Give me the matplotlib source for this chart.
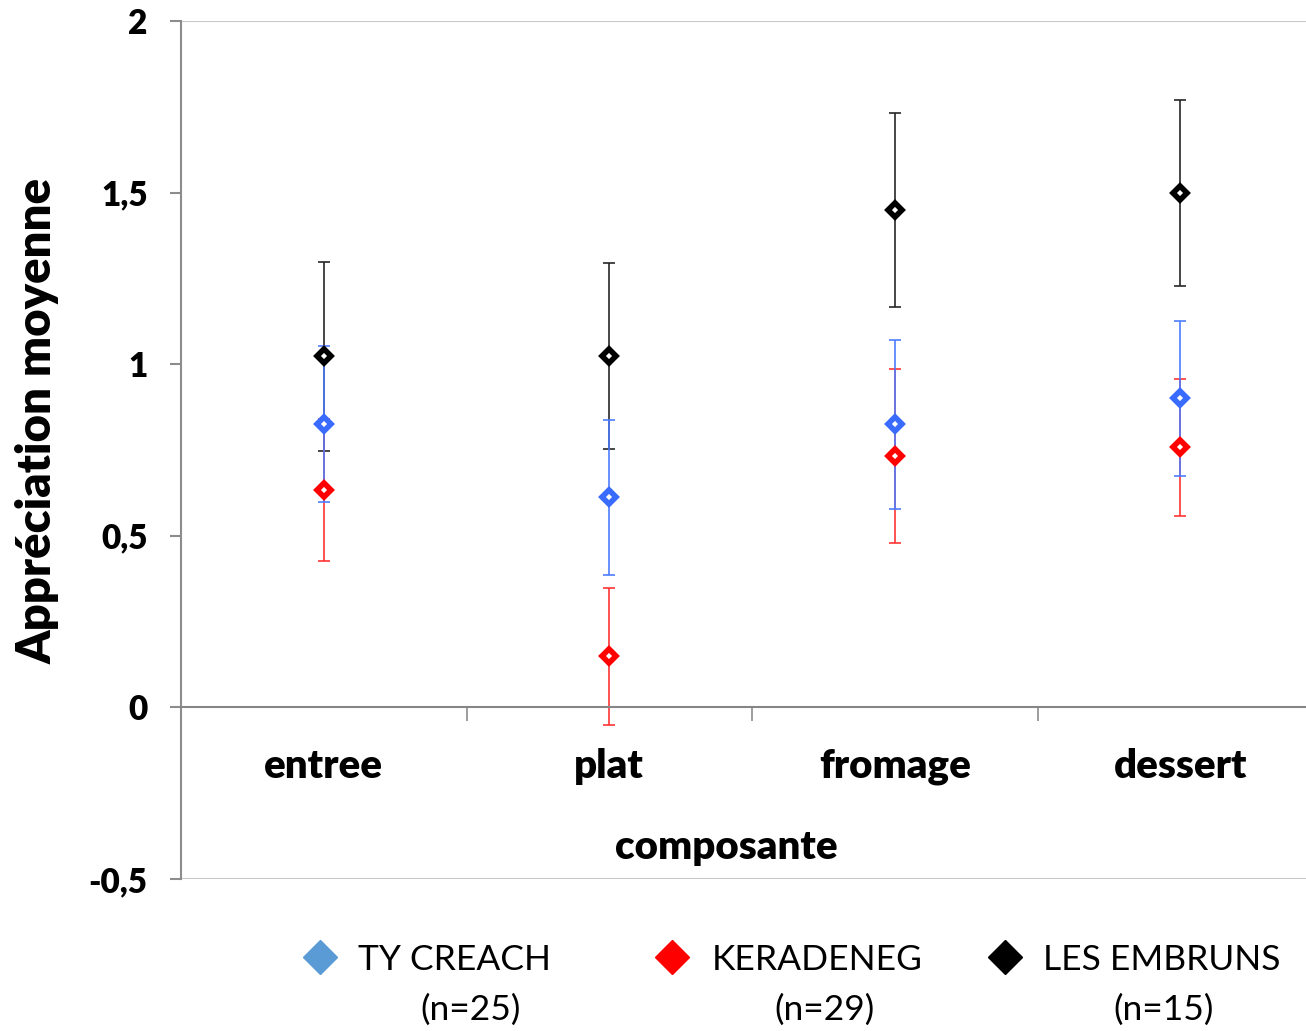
import matplotlib
matplotlib.use("Agg")
import matplotlib.pyplot as plt
from matplotlib.lines import Line2D
import numpy as np

plt.rcParams['font.family'] = ['Lato', 'DejaVu Sans']

categories = ['entree', 'plat', 'fromage', 'dessert']
series_names = ['TY CREACH', 'KERADENEG', 'LES EMBRUNS']
series_n = ['(n=25)', '(n=29)', '(n=15)']

ty_creach_mean = [0.825, 0.612, 0.825, 0.901]
ty_creach_err = [0.227, 0.225, 0.246, 0.226]
keradeneg_mean = [0.633, 0.149, 0.732, 0.758]
keradeneg_err = [0.207, 0.200, 0.253, 0.200]
embruns_mean = [1.023, 1.023, 1.449, 1.499]
embruns_err = [0.275, 0.271, 0.282, 0.272]

yticks = [-0.5, 0, 0.5, 1, 1.5, 2]
ytick_labels = ['-0,5', '0', '0,5', '1', '1,5', '2']

marker_colors = ['#3A6BFF', '#FF0000', '#000000']
err_colors = ['#4A7BFF', '#FF3030', '#222222']
legend_colors = ['#5B9BD5', '#FF0000', '#000000']

means = [ty_creach_mean, keradeneg_mean, embruns_mean]
errs = [ty_creach_err, keradeneg_err, embruns_err]

fig = plt.figure(figsize=(13.06, 10.31), dpi=100)
ax = fig.add_axes([181 / 1306, 1 - 879 / 1031, (1323 - 181) / 1306, (879 - 21) / 1031])

x = np.arange(len(categories))

# error bars first (black, red, blue), markers on top
for i in [2, 1, 0]:
    ax.errorbar(x, means[i], yerr=errs[i], fmt='none', ecolor=err_colors[i],
                elinewidth=1.3, capsize=4.5, capthick=1.3, alpha=0.9, zorder=2)
for i in [0, 1, 2]:
    ax.plot(x, means[i], linestyle='none', marker='D', markersize=7.5,
            markerfacecolor='white', markeredgecolor=marker_colors[i],
            markeredgewidth=4, zorder=3)

ax.set_xlim(-0.5, 3.5)
ax.set_ylim(-0.5, 2)

ax.axhline(2, color='#C8C8C8', lw=1.5, zorder=1)
ax.axhline(-0.5, color='#C8C8C8', lw=1.5, zorder=1)

for s in ['top', 'right']:
    ax.spines[s].set_visible(False)
ax.spines['left'].set_color('#8C8C8C')
ax.spines['left'].set_linewidth(1.5)
ax.spines['bottom'].set_position(('data', 0))
ax.spines['bottom'].set_color('#868686')
ax.spines['bottom'].set_linewidth(1.5)

ax.set_yticks(yticks)
ax.set_yticklabels(ytick_labels, fontsize=24, fontweight='heavy')
ax.tick_params(axis='y', direction='out', length=8, width=1.5, color='#8C8C8C', pad=16)

ax.set_xticks(x)
ax.set_xticklabels(categories, fontsize=29, fontweight='heavy')
ax.set_xticks([0.5, 1.5, 2.5], minor=True)
ax.tick_params(axis='x', which='major', length=0, pad=29)
ax.tick_params(axis='x', which='minor', direction='out', length=10, width=1.2, color='#8C8C8C')

ax.set_ylabel('Appréciation moyenne', fontsize=34, fontweight='heavy')
ax.yaxis.set_label_coords(-0.106, 0.534)
fig.text(726 / 1306, 1 - 848 / 1031, 'composante', fontsize=29, fontweight='heavy',
         ha='center', va='center')

# legend below the chart
leg_marker_x = [320, 672, 1005]
leg_text_x = [358, 712, 1043]
leg_n_x = [471, 825, 1164]
for i in range(3):
    fig.add_artist(Line2D([leg_marker_x[i] / 1306], [1 - 957 / 1031], transform=fig.transFigure,
                          marker='D', markersize=17, color=legend_colors[i], linestyle='none'))
    fig.text(leg_text_x[i] / 1306, 1 - 960 / 1031, series_names[i], fontsize=25.5,
             ha='left', va='center')
    fig.text(leg_n_x[i] / 1306, 1 - 1010 / 1031, series_n[i], fontsize=25.5,
             ha='center', va='center')

fig.savefig('out.png', dpi=100)
